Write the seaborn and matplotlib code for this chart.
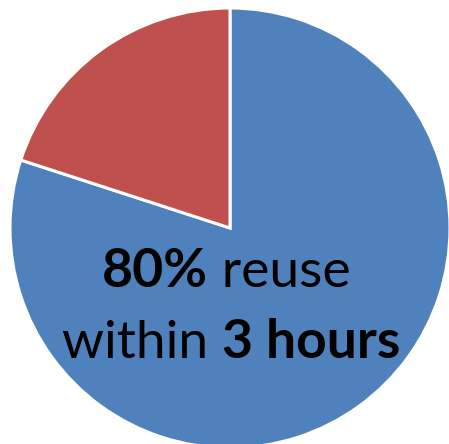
import matplotlib
matplotlib.use("Agg")
import matplotlib.pyplot as plt
import seaborn as sns

labels = ["Reuse within 3 hours", "Later"]
shares = [80, 20]
colors = ["#4F81BD", "#C0504D"]
line1 = [("80%", "bold"), (" reuse", "normal")]
line2 = [("within ", "normal"), ("3 hours", "bold")]

sns.set_theme(style="white")
plt.rcParams["font.family"] = ["Lato", "DejaVu Sans"]

fig = plt.figure(figsize=(4.49, 4.44), dpi=100)
ax = fig.add_axes([0, 0, 1, 1])
ax.pie(shares, colors=colors, startangle=90, counterclock=False,
       wedgeprops=dict(edgecolor="white", linewidth=2.2), radius=1.0)
R = 220.0
ax.set_xlim(-230 / R, 219 / R)
ax.set_ylim((228 - 444) / R, 228 / R)
ax.set_aspect("auto")
ax.axis("off")

renderer = fig.canvas.get_renderer()
fs = 38.5

def put_line(parts, x0_px, base_px):
    x = x0_px
    for txt, w in parts:
        t = fig.text(x / 449, 1 - base_px / 444, txt, fontsize=fs, fontweight=w,
                     color="black", ha="left", va="baseline")
        bb = t.get_window_extent(renderer=renderer)
        x = x + bb.width

put_line(line1, 102, 287)
put_line(line2, 62, 358)

fig.savefig("out.png", dpi=100)
